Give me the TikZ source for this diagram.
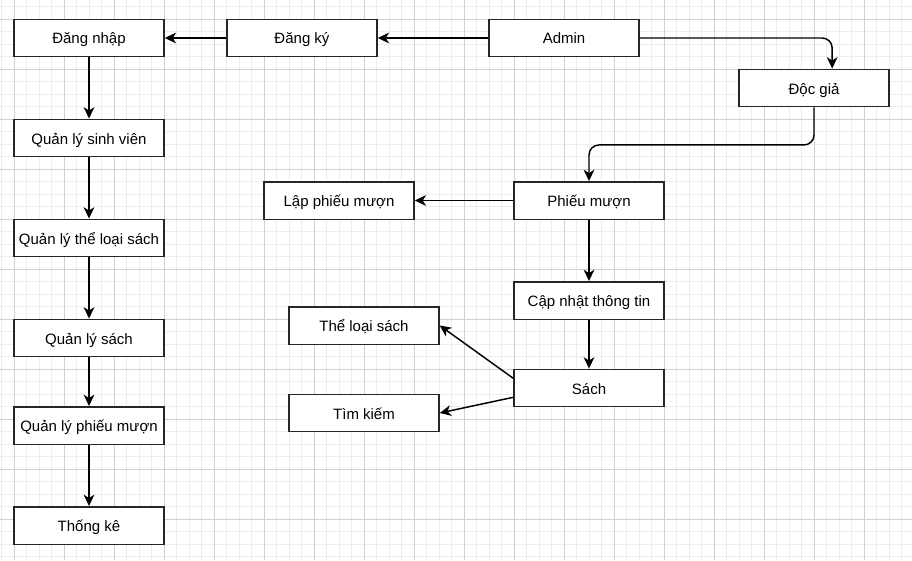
\documentclass[tikz,border=0pt]{standalone}
\usepackage{fontspec}
\setmainfont{Liberation Sans}
\usetikzlibrary{arrows.meta,calc}

\begin{document}
\begin{tikzpicture}[x=0.75pt,y=-0.75pt,
    box/.style={draw=black!85, line width=1.1pt, fill=white, inner sep=0pt,
      minimum width=112.5pt, minimum height=28.1pt, text height=11pt, text depth=2pt,
      font=\fontsize{11.25pt}{13pt}\selectfont},
    link/.style={line width=1.1pt, -{Stealth[length=8.5pt,width=8pt,inset=2.5pt]}}]
      \useasboundingbox (0,0) rectangle (912,560);
      \def\showGrid{
        % minor lines
        \foreach \x in {1.8,14.3,...,912}
        \draw [black!7, line width=0.6pt] (\x,0) -- (\x,560);
        \foreach \y in {6.8,19.3,...,560}
        \draw [black!7, line width=0.6pt] (0,\y) -- (912,\y);
        % major lines
        \foreach \x in {14.3,64.3,...,912}
        \draw [black!18, line width=0.6pt] (\x,0) -- (\x,560);
        \foreach \y in {19.3,69.3,...,560}
        \draw [black!18, line width=0.6pt] (0,\y) -- (912,\y);
      }
      \def\showBoxes{
        \node [box] (dangnhap) at (89,38) {Đăng nhập};
        \node [box] (dangky) at (302,38) {Đăng ký};
        \node [box] (admin) at (564,38) {Admin};
        \node [box] (docgia) at (814,88) {Độc giả};
        \node [box] (qlsv) at (89,138) {Quản lý sinh viên};
        \node [box] (qltls) at (89,238) {Quản lý thể loại sách};
        \node [box] (qls) at (89,338) {Quản lý sách};
        \node [box] (qlpm) at (89,425.5) {Quản lý phiếu mượn};
        \node [box] (thongke) at (89,525.5) {Thống kê};
        \node [box] (phieumuon) at (589,200.5) {Phiếu mượn};
        \node [box] (lappm) at (339,200.5) {Lập phiếu mượn};
        \node [box] (capnhat) at (589,300.5) {Cập nhật thông tin};
        \node [box] (sach) at (589,388) {Sách};
        \node [box] (theloai) at (364,325.5) {Thể loại sách};
        \node [box] (timkiem) at (364,413) {Tìm kiếm};
      }
      \def\showLinks{
        % top row
        \draw [link] (admin) -- (dangky);
        \draw [link] (dangky) -- (dangnhap);
        % left column
        \foreach \a/\b in {dangnhap/qlsv,qlsv/qltls,qltls/qls,qls/qlpm,qlpm/thongke}
        \draw [link] (\a) -- (\b);
        % right side
        \coordinate (dgin) at ($ (docgia.north west)!.62!(docgia.north east) $);
        \draw [link, rounded corners=7.5pt] (admin.east) -| (dgin);
        \draw [link, rounded corners=7.5pt] (docgia.south) -- ++(0,37.5) -| (phieumuon.north);
        \draw [link] (phieumuon) -- (lappm);
        \draw [link] (phieumuon) -- (capnhat);
        \draw [link] (capnhat) -- (sach);
        \coordinate (s1) at ($ (sach.west)+(0,-9.7) $);
        \coordinate (s2) at ($ (sach.west)+(0,9.3) $);
        \draw [link] (s1) -- (theloai.east);
        \draw [link] (s2) -- (timkiem.east);
      }
      \showGrid
      \showBoxes
      \showLinks
    \end{tikzpicture}
\end{document}
